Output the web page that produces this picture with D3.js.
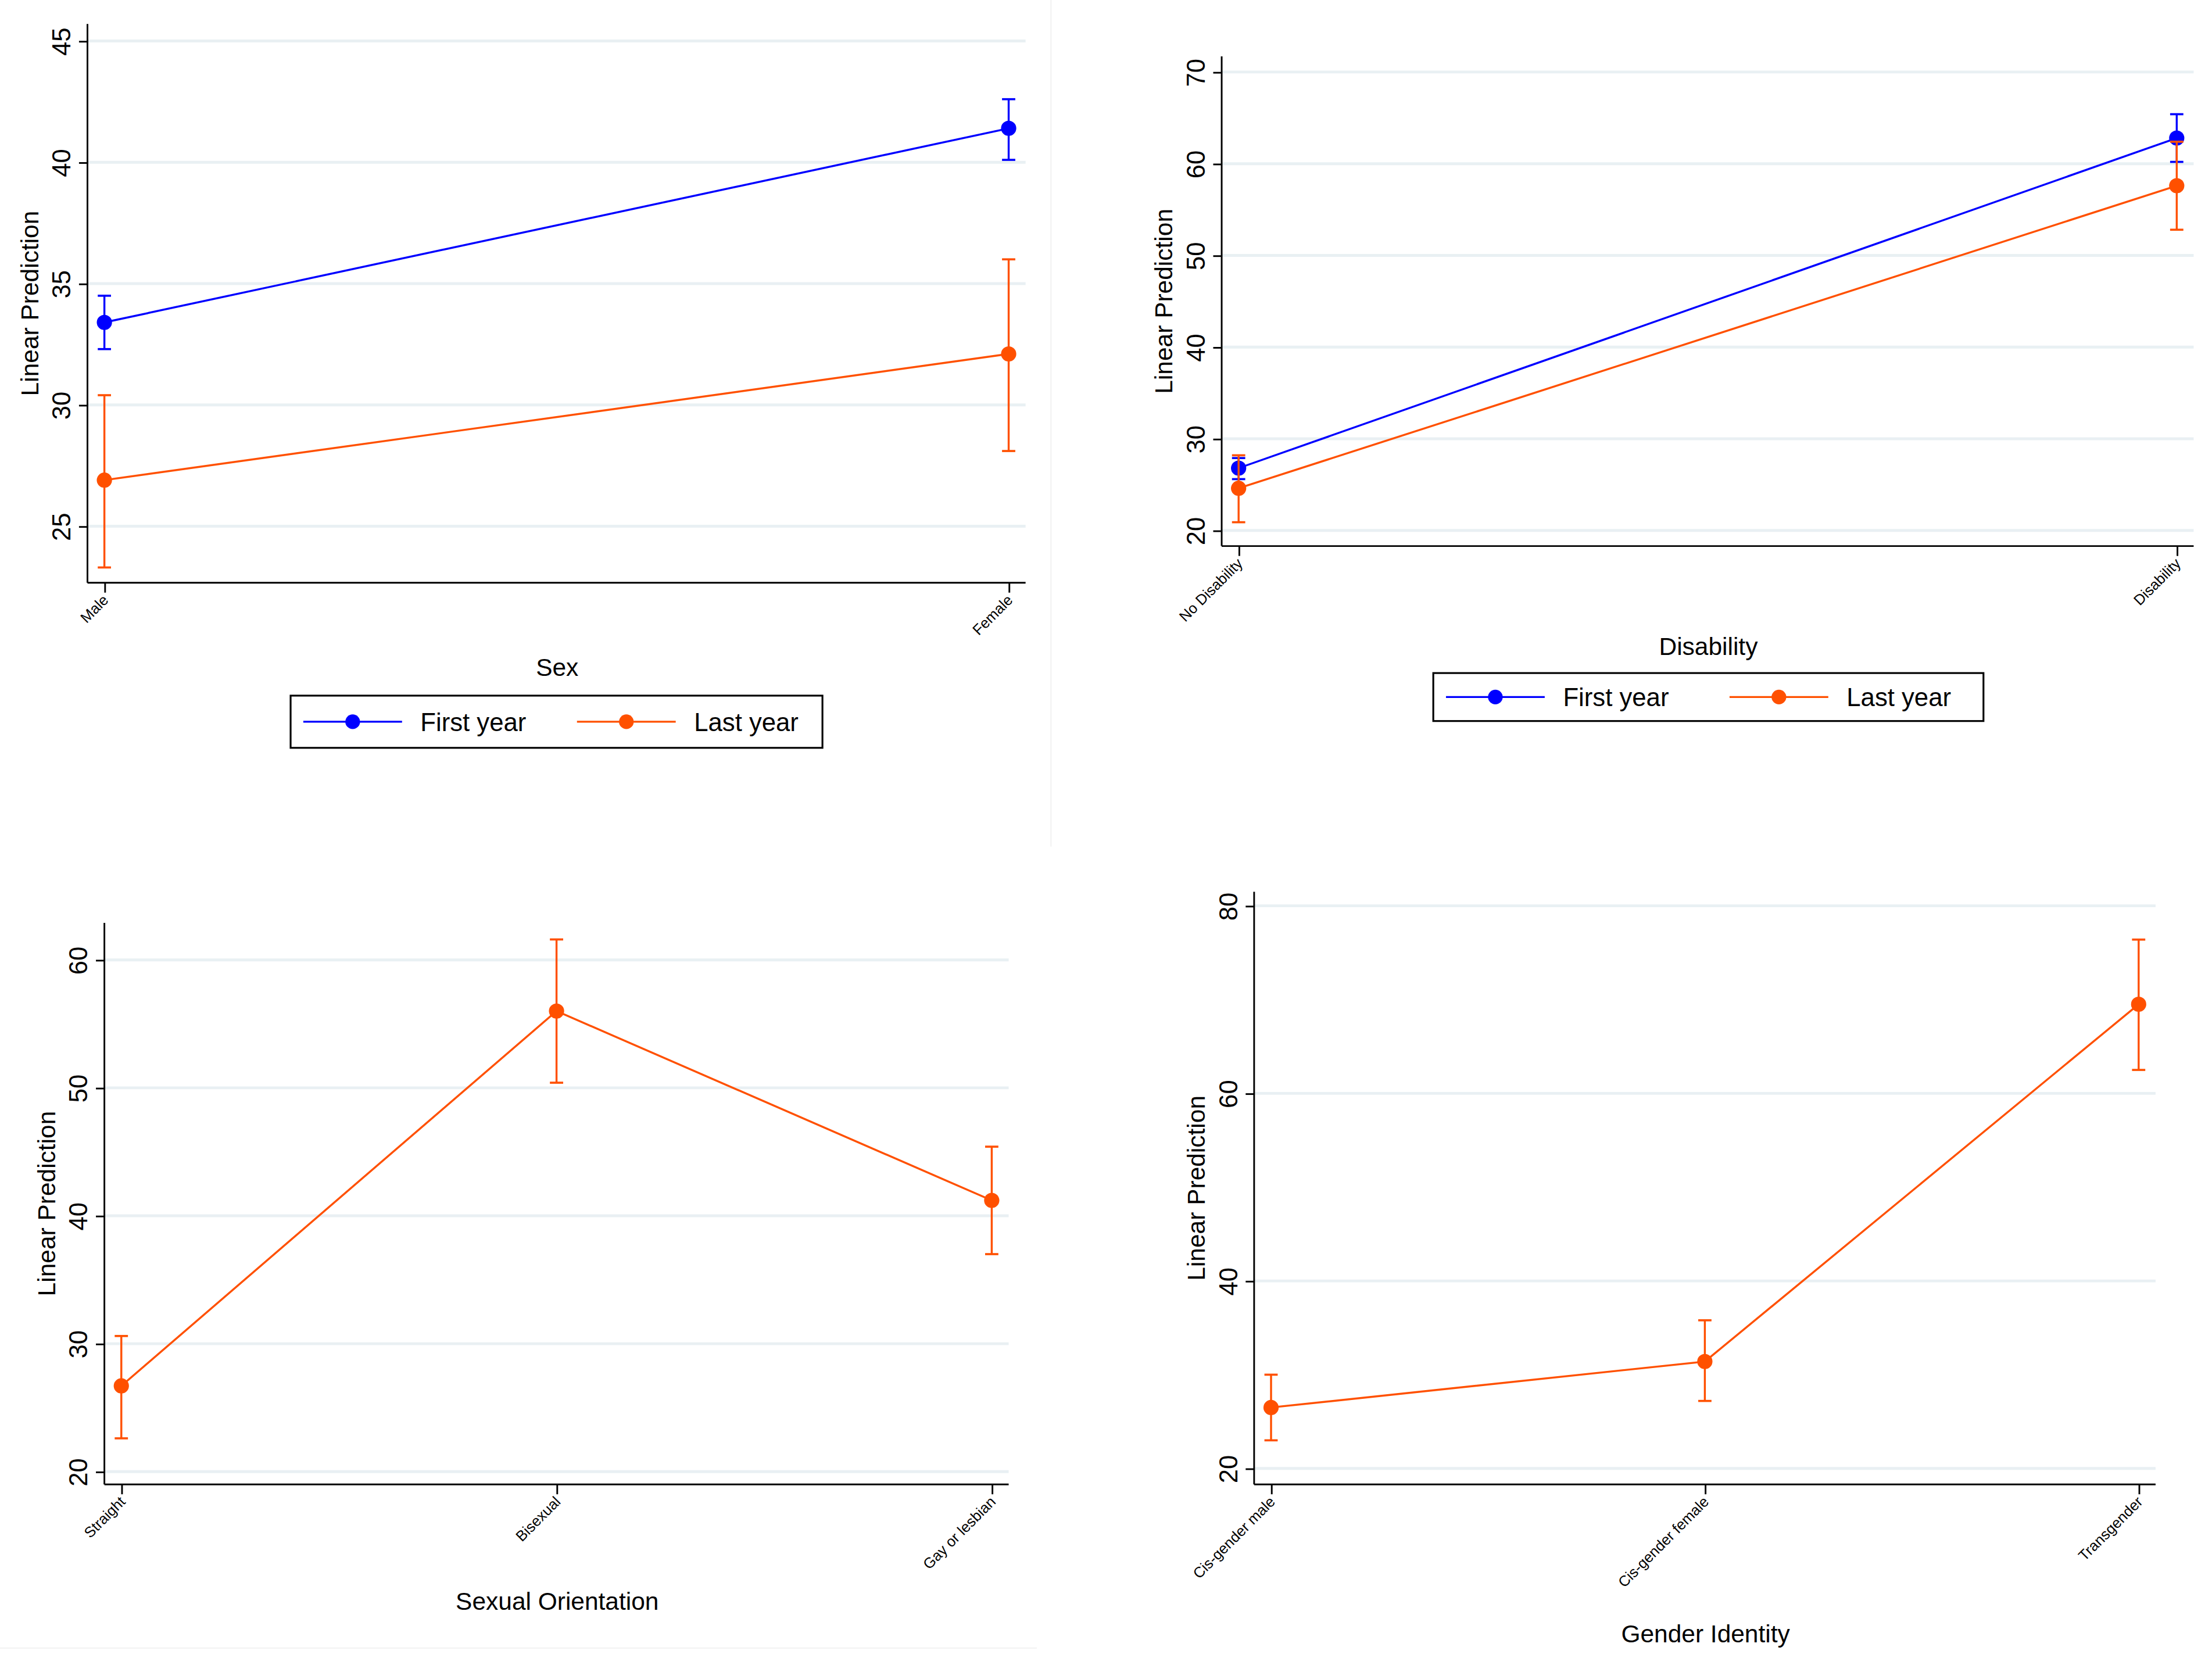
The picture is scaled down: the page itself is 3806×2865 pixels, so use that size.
<!DOCTYPE html>
<html>
<head>
<meta charset="utf-8">
<script src="https://cdn.jsdelivr.net/npm/d3@7"></script>
<style>
  html, body { margin: 0; padding: 0; background: #fff; }
  svg { display: block; }
  text { font-family: "Liberation Sans", Arial, Helvetica, sans-serif; fill: #000; }
</style>
</head>
<body>
<div id="chart"></div>
<script>
// ---- data ----
var seriesNames = ["First year", "Last year"];
var seriesColors = ["#0000ff", "#ff5000"];

// Sex
var sexCats = ["Male", "Female"];
var sexFirst = [33.4, 41.4];
var sexFirstLo = [32.3, 40.1];
var sexFirstHi = [34.5, 42.6];
var sexLast = [26.9, 32.1];
var sexLastLo = [23.3, 28.1];
var sexLastHi = [30.4, 36.0];
var sexTicks = [25, 30, 35, 40, 45];

// Disability
var disCats = ["No Disability", "Disability"];
var disFirst = [26.8, 62.8];
var disFirstLo = [25.6, 60.2];
var disFirstHi = [27.9, 65.4];
var disLast = [24.6, 57.6];
var disLastLo = [20.9, 52.8];
var disLastHi = [28.2, 62.4];
var disTicks = [20, 30, 40, 50, 60, 70];

// Sexual orientation (last year only)
var oriCats = ["Straight", "Bisexual", "Gay or lesbian"];
var oriLast = [26.7, 56.0, 41.2];
var oriLastLo = [22.6, 50.4, 37.0];
var oriLastHi = [30.6, 61.6, 45.4];
var oriTicks = [20, 30, 40, 50, 60];

// Gender identity (last year only)
var genCats = ["Cis-gender male", "Cis-gender female", "Transgender"];
var genLast = [26.5, 31.4, 69.5];
var genLastLo = [23.0, 27.2, 62.5];
var genLastHi = [30.0, 35.8, 76.4];
var genTicks = [20, 40, 60, 80];

// ---- layout (in a 1568 x 1180 drawing space, stretched to the window) ----
var W = 1568, H = 1180;

var svg = d3.select("#chart")
  .append("svg")
  .attr("width", 3806)
  .attr("height", 2865)
  .attr("viewBox", "0 0 " + W + " " + H)
  .attr("preserveAspectRatio", "none");

svg.append("rect").attr("width", W).attr("height", H).attr("fill", "#fff");

// faint edges of the four exported panels
svg.append("line").attr("x1", 745).attr("x2", 745).attr("y1", 0).attr("y2", 600)
  .attr("stroke", "#f3f3f3").attr("stroke-width", 1);
svg.append("line").attr("x1", 0).attr("x2", 735).attr("y1", 1168).attr("y2", 1168)
  .attr("stroke", "#f3f3f3").attr("stroke-width", 1);

function drawPanel(opts) {
  var g = svg.append("g");

  var x = d3.scalePoint()
    .domain(opts.cats)
    .range([opts.left + 12, opts.right - 12]);

  var y = d3.scaleLinear()
    .domain(opts.yDomain)
    .range([opts.bottom, opts.top]);

  // grid lines
  g.append("g")
    .selectAll("line")
    .data(opts.ticks)
    .join("line")
    .attr("x1", opts.left)
    .attr("x2", opts.right)
    .attr("y1", function(d) { return y(d); })
    .attr("y2", function(d) { return y(d); })
    .attr("stroke", "#e9f0f3")
    .attr("stroke-width", 2);

  // y axis
  var yAxis = d3.axisLeft(y)
    .tickValues(opts.ticks)
    .tickSize(6)
    .tickPadding(11)
    .tickSizeOuter(0);

  var ya = g.append("g")
    .attr("transform", "translate(" + opts.left + ",0)")
    .call(yAxis);
  ya.select(".domain").remove();
  ya.selectAll(".tick line").attr("stroke", "#000").attr("stroke-width", 1.2);
  ya.selectAll(".tick text")
    .attr("font-size", 18)
    .attr("text-anchor", "middle")
    .attr("dy", 0)
    .attr("x", 0)
    .attr("transform", "translate(-12,0) rotate(-90)");

  g.append("line")
    .attr("x1", opts.left).attr("x2", opts.left)
    .attr("y1", opts.top).attr("y2", opts.bottom)
    .attr("stroke", "#000").attr("stroke-width", 1.2);

  // x axis
  var xAxis = d3.axisBottom(x)
    .tickSize(7)
    .tickPadding(4)
    .tickSizeOuter(0);

  var xa = g.append("g")
    .attr("transform", "translate(0," + opts.bottom + ")")
    .call(xAxis);
  xa.select(".domain").remove();
  xa.selectAll(".tick line").attr("stroke", "#000").attr("stroke-width", 1.2);
  xa.selectAll(".tick text")
    .attr("font-size", 10.5)
    .attr("text-anchor", "end")
    .attr("dy", 0)
    .attr("y", 0)
    .attr("transform", "translate(3,13) rotate(-45)");

  g.append("line")
    .attr("x1", opts.left).attr("x2", opts.right)
    .attr("y1", opts.bottom).attr("y2", opts.bottom)
    .attr("stroke", "#000").attr("stroke-width", 1.2);

  // axis titles
  g.append("text")
    .attr("text-anchor", "middle")
    .attr("font-size", 17.5)
    .attr("transform", "translate(" + (opts.left - 35) + "," + ((opts.top + opts.bottom) / 2) + ") rotate(-90)")
    .text("Linear Prediction");

  g.append("text")
    .attr("text-anchor", "middle")
    .attr("font-size", 17.5)
    .attr("x", opts.titleX)
    .attr("y", opts.titleY)
    .text(opts.title);

  // series: error bars, line, markers
  opts.series.forEach(function(s) {
    var rows = opts.cats.map(function(c, i) {
      return { cat: c, v: s.vals[i], lo: s.lo[i], hi: s.hi[i] };
    });
    var sg = g.append("g");

    sg.selectAll("line.bar")
      .data(rows)
      .join("line")
      .attr("class", "bar")
      .attr("x1", function(d) { return x(d.cat); })
      .attr("x2", function(d) { return x(d.cat); })
      .attr("y1", function(d) { return y(d.lo); })
      .attr("y2", function(d) { return y(d.hi); })
      .attr("stroke", s.color)
      .attr("stroke-width", 1.4);

    ["lo", "hi"].forEach(function(k) {
      sg.selectAll("line.cap" + k)
        .data(rows)
        .join("line")
        .attr("class", "cap" + k)
        .attr("x1", function(d) { return x(d.cat) - 4.7; })
        .attr("x2", function(d) { return x(d.cat) + 4.7; })
        .attr("y1", function(d) { return y(d[k]); })
        .attr("y2", function(d) { return y(d[k]); })
        .attr("stroke", s.color)
        .attr("stroke-width", 1.5);
    });

    var line = d3.line()
      .x(function(d) { return x(d.cat); })
      .y(function(d) { return y(d.v); });

    sg.append("path")
      .datum(rows)
      .attr("fill", "none")
      .attr("stroke", s.color)
      .attr("stroke-width", 1.4)
      .attr("d", line);

    sg.selectAll("circle")
      .data(rows)
      .join("circle")
      .attr("cx", function(d) { return x(d.cat); })
      .attr("cy", function(d) { return y(d.v); })
      .attr("r", 5.4)
      .attr("fill", s.color);
  });

  // legend
  if (opts.legend) {
    var L = opts.legend;
    var lg = g.append("g");
    lg.append("rect")
      .attr("x", L.x).attr("y", L.y)
      .attr("width", L.w).attr("height", L.h)
      .attr("fill", "#fff")
      .attr("stroke", "#000")
      .attr("stroke-width", 1.3);
    var cy = L.y + L.h / 2;
    seriesNames.forEach(function(name, i) {
      var x0 = L.x + 9 + i * L.step;
      lg.append("line")
        .attr("x1", x0).attr("x2", x0 + 70)
        .attr("y1", cy).attr("y2", cy)
        .attr("stroke", seriesColors[i]).attr("stroke-width", 1.4);
      lg.append("circle")
        .attr("cx", x0 + 35).attr("cy", cy).attr("r", 5.2)
        .attr("fill", seriesColors[i]);
      lg.append("text")
        .attr("x", x0 + 83)
        .attr("y", cy + 6.5)
        .attr("font-size", 18)
        .text(name);
    });
  }
}

drawPanel({
  cats: sexCats,
  left: 62, right: 727, top: 17, bottom: 413,
  yDomain: [22.67, 45.7],
  ticks: sexTicks,
  title: "Sex", titleX: 395, titleY: 479,
  series: [
    { vals: sexFirst, lo: sexFirstLo, hi: sexFirstHi, color: seriesColors[0] },
    { vals: sexLast, lo: sexLastLo, hi: sexLastHi, color: seriesColors[1] }
  ],
  legend: { x: 206, y: 493, w: 377, h: 37, step: 194 }
});

drawPanel({
  cats: disCats,
  left: 866, right: 1555, top: 40, bottom: 387,
  yDomain: [18.3, 71.7],
  ticks: disTicks,
  title: "Disability", titleX: 1211, titleY: 464,
  series: [
    { vals: disFirst, lo: disFirstLo, hi: disFirstHi, color: seriesColors[0] },
    { vals: disLast, lo: disLastLo, hi: disLastHi, color: seriesColors[1] }
  ],
  legend: { x: 1016, y: 477, w: 390, h: 34, step: 201 }
});

drawPanel({
  cats: oriCats,
  left: 74, right: 715, top: 654, bottom: 1052,
  yDomain: [19.0, 62.9],
  ticks: oriTicks,
  title: "Sexual Orientation", titleX: 395, titleY: 1141,
  series: [
    { vals: oriLast, lo: oriLastLo, hi: oriLastHi, color: seriesColors[1] }
  ]
});

drawPanel({
  cats: genCats,
  left: 889, right: 1528, top: 632, bottom: 1052,
  yDomain: [18.3, 81.5],
  ticks: genTicks,
  title: "Gender Identity", titleX: 1209, titleY: 1164,
  series: [
    { vals: genLast, lo: genLastLo, hi: genLastHi, color: seriesColors[1] }
  ]
});
</script>
</body>
</html>
